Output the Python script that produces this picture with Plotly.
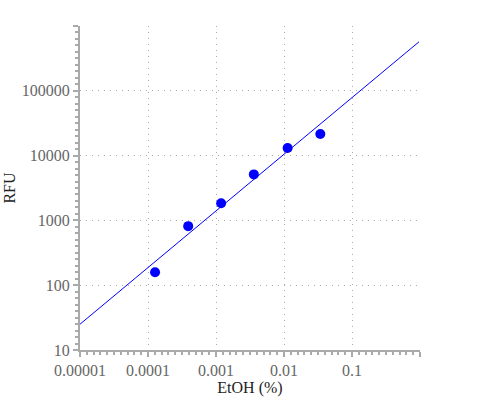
import plotly.graph_objects as go

etoh = [1.27e-4, 3.9e-4, 1.19e-3, 3.6e-3, 1.13e-2, 3.42e-2]
rfu = [158, 815, 1840, 5130, 13100, 21500]

fit_x = [1e-5, 0.966]
fit_y = [25, 5.7e5]

x_tickvals = [1e-5, 1e-4, 1e-3, 1e-2, 1e-1, 1]
x_ticktext = ["0.00001", "0.0001", "0.001", "0.01", "0.1", ""]
y_tickvals = [10, 100, 1000, 10000, 100000, 1000000]
y_ticktext = ["10", "100", "1000", "10000", "100000", ""]

fig = go.Figure()
fig.add_trace(go.Scatter(x=fit_x, y=fit_y, mode="lines",
                         line=dict(color="#0000ff", width=1), showlegend=False))
fig.add_trace(go.Scatter(x=etoh, y=rfu, mode="markers",
                         marker=dict(color="#0000ff", size=10), showlegend=False))

font = "Liberation Serif, Times New Roman, serif"
axis_common = dict(
    showline=True, linecolor="#aaaaaa", linewidth=2,
    ticks="outside", ticklen=5, tickcolor="#aaaaaa", tickwidth=2,
    showgrid=True, gridcolor="#aaaaaa", gridwidth=1, griddash="1px,5px",
    zeroline=False, automargin=False,
    tickfont=dict(family=font, size=16, color="#666666"),
    minor=dict(ticks="outside", ticklen=3, tickcolor="#aaaaaa", dtick=0.1, showgrid=False),
)

fig.update_xaxes(type="log", range=[-5, 0], tickmode="array",
                 tickvals=x_tickvals, ticktext=x_ticktext,
                 title=dict(text="EtOH (%)", font=dict(family=font, size=16, color="#222222"), standoff=2),
                 **axis_common)
fig.update_yaxes(type="log", range=[1, 6], tickmode="array",
                 tickvals=y_tickvals, ticktext=y_ticktext,
                 title=dict(text="RFU", font=dict(family=font, size=16, color="#222222"), standoff=2),
                 **axis_common)

fig.update_layout(width=500, height=400,
                  margin=dict(l=80, r=80, t=26, b=50),
                  font=dict(family=font),
                  plot_bgcolor="white", paper_bgcolor="white")

fig.write_html("out.html")
